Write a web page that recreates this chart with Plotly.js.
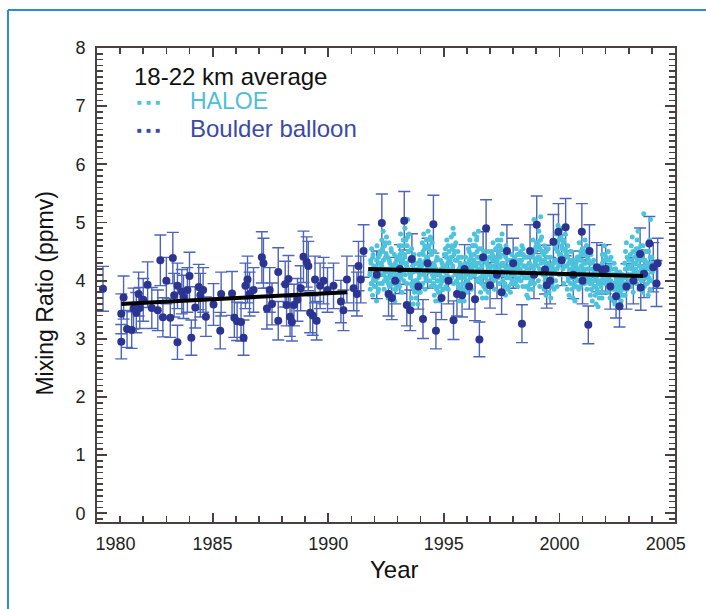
<!DOCTYPE html>
<html>
<head>
<meta charset="utf-8">
<script src="https://cdn.plot.ly/plotly-3.0.1.min.js"></script>
<style>
html,body{margin:0;padding:0;background:#fff;}
#chart{width:706px;height:609px;}
</style>
</head>
<body>
<div id="chart"></div>
<script>
// Boulder balloon soundings (year, ppmv)
const balloonYear = [
 1980.26,1981.05,1981.05,1981.15,1981.30,1981.50,1981.58,1981.70,1981.80,1981.85,
 1982.00,1982.19,1982.37,1982.63,1982.74,1982.85,1983.00,1983.17,1983.28,1983.34,
 1983.48,1983.48,1983.67,1983.74,1983.91,1984.00,1984.08,1984.25,1984.40,1984.47,
 1984.59,1984.71,1985.04,1985.33,1985.37,1985.84,1985.94,1986.06,1986.23,1986.34,
 1986.42,1986.51,1986.60,1986.77,1987.13,1987.20,1987.35,1987.47,1987.57,1987.84,
 1987.84,1988.14,1988.20,1988.28,1988.35,1988.43,1988.52,1988.67,1988.81,1988.93,
 1989.07,1989.14,1989.22,1989.33,1989.43,1989.50,1989.65,1989.80,1989.97,1990.23,
 1990.55,1990.66,1990.81,1991.10,1991.24,1991.31,1991.41,1991.53,1992.10,1992.32,
 1992.61,1992.75,1992.90,1993.10,1993.29,1993.40,1993.55,1993.62,1993.90,1994.10,
 1994.30,1994.55,1994.66,1994.90,1995.20,1995.42,1995.57,1995.79,1995.90,1996.10,
 1996.35,1996.54,1996.70,1996.83,1997.00,1997.30,1997.50,1997.73,1998.00,1998.38,
 1998.73,1998.90,1999.02,1999.38,1999.45,1999.60,1999.74,1999.96,2000.10,2000.27,
 2000.60,2000.97,2001.00,2001.25,2001.30,2001.62,2001.84,2002.00,2002.20,2002.45,
 2002.60,2002.90,2003.20,2003.49,2003.52,2003.66,2003.89,2004.06,2004.20,2004.25
];
const balloonH2O = [
 3.86,3.43,2.95,3.71,3.17,3.15,3.52,3.45,3.77,3.53,
 3.67,3.93,3.53,3.49,4.35,3.37,4.00,3.36,4.39,3.75,
 2.94,3.91,3.81,3.72,3.84,4.08,3.02,3.54,3.89,3.75,
 3.84,3.38,3.59,3.14,3.77,3.78,3.36,3.30,3.29,3.02,
 3.91,4.02,3.77,3.84,4.40,4.30,3.52,3.84,3.60,4.15,
 3.31,3.94,3.58,4.03,3.38,3.29,3.58,3.67,3.87,4.41,
 4.32,4.25,3.45,3.40,4.02,3.31,3.91,4.00,3.84,3.91,
 3.64,3.49,4.02,3.87,3.77,4.25,4.02,4.51,4.10,4.99,
 3.77,3.70,4.00,4.20,5.03,3.58,3.49,4.37,3.90,3.34,
 4.30,4.97,3.14,3.70,4.00,3.32,3.77,3.75,4.20,3.90,
 3.68,2.99,4.40,4.90,3.92,4.10,3.80,4.51,4.30,3.26,
 4.51,4.10,4.96,4.19,3.92,4.00,4.67,4.84,4.35,4.92,
 4.10,4.84,4.00,3.24,4.51,4.23,4.19,4.20,3.90,3.73,
 3.56,3.90,4.00,4.46,3.88,4.12,4.64,4.23,3.95,4.30
];
// HALOE occultation measurements (year, ppmv), part A
const haloeYearA = [
 1991.80,1991.82,1991.84,1991.86,1991.88,1991.90,1991.92,1991.94,1991.96,1991.98,1992.00,1992.02,
 1992.05,1992.07,1992.09,1992.11,1992.13,1992.15,1992.17,1992.19,1992.21,1992.23,1992.25,1992.27,
 1992.30,1992.32,1992.34,1992.36,1992.38,1992.40,1992.42,1992.44,1992.46,1992.48,1992.50,1992.52,
 1992.55,1992.57,1992.59,1992.61,1992.63,1992.65,1992.67,1992.69,1992.71,1992.73,1992.75,1992.77,
 1992.80,1992.82,1992.84,1992.86,1992.88,1992.90,1992.92,1992.94,1992.96,1992.98,1993.00,1993.02,
 1993.05,1993.07,1993.09,1993.11,1993.13,1993.15,1993.17,1993.19,1993.21,1993.23,1993.25,1993.27,
 1993.30,1993.32,1993.34,1993.36,1993.38,1993.40,1993.42,1993.44,1993.46,1993.48,1993.50,1993.52,
 1993.55,1993.57,1993.59,1993.61,1993.63,1993.65,1993.67,1993.69,1993.71,1993.73,1993.75,1993.77,
 1993.80,1993.82,1993.84,1993.86,1993.88,1993.90,1993.92,1993.94,1993.96,1993.98,1994.00,1994.02,
 1994.05,1994.07,1994.09,1994.11,1994.13,1994.15,1994.17,1994.19,1994.21,1994.23,1994.25,1994.27,
 1994.30,1994.32,1994.34,1994.36,1994.38,1994.40,1994.42,1994.44,1994.46,1994.48,1994.50,1994.52,
 1994.55,1994.57,1994.59,1994.61,1994.63,1994.65,1994.67,1994.69,1994.71,1994.73,1994.75,1994.77,
 1994.80,1994.82,1994.84,1994.86,1994.88,1994.90,1994.92,1994.94,1994.96,1994.98,1995.00,1995.02,
 1995.05,1995.07,1995.09,1995.11,1995.13,1995.15,1995.17,1995.19,1995.21,1995.23,1995.25,1995.27,
 1995.30,1995.32,1995.34,1995.36,1995.38,1995.40,1995.42,1995.44,1995.46,1995.48,1995.50,1995.52,
 1995.55,1995.57,1995.59,1995.61,1995.63,1995.65,1995.67,1995.69,1995.71,1995.73,1995.75,1995.77,
 1995.80,1995.82,1995.84,1995.86,1995.88,1995.90,1995.92,1995.94,1995.96,1995.98,1996.00,1996.02,
 1996.05,1996.07,1996.09,1996.11,1996.13,1996.15,1996.17,1996.19,1996.21,1996.23,1996.25,1996.27,
 1996.30,1996.32,1996.34,1996.36,1996.38,1996.40,1996.42,1996.44,1996.46,1996.48,1996.50,1996.52,
 1996.55,1996.57,1996.59,1996.61,1996.63,1996.65,1996.67,1996.69,1996.71,1996.73,1996.75,1996.77,
 1996.80,1996.82,1996.84,1996.86,1996.88,1996.90,1996.92,1996.94,1996.96,1996.98,1997.00,1997.02,
 1997.05,1997.07,1997.09,1997.11,1997.13,1997.15,1997.17,1997.19,1997.21,1997.23,1997.25,1997.27,
 1997.30,1997.32,1997.34,1997.36,1997.38,1997.40,1997.42,1997.44,1997.46,1997.48,1997.50,1997.52,
 1997.55,1997.57,1997.59,1997.61,1997.63,1997.65,1997.67,1997.69,1997.71,1997.73,1997.75,1997.77,
 1997.80,1997.82,1997.84,1997.86,1997.88,1997.90,1997.92,1997.94,1997.96,1997.98,1998.00,1998.02,
 1998.05,1998.07,1998.09,1998.11,1998.13,1998.15,1998.17,1998.19,1998.21,1998.23,1998.25,1998.27,
 1998.30,1998.32,1998.34,1998.36,1998.38,1998.40,1998.42,1998.44,1998.46,1998.48,1998.50,1998.52,
 1998.55,1998.57,1998.59,1998.61,1998.63,1998.65,1998.67,1998.69,1998.71,1998.73,1998.75,1998.77,
 1998.80,1998.82,1998.84,1998.86,1998.88,1998.90,1998.92,1998.94,1998.96,1998.98,1999.00,1999.02,
 1999.05,1999.07,1999.09,1999.11,1999.13,1999.15,1999.17,1999.19,1999.21,1999.23,1999.25,1999.27,
 1999.30,1999.32,1999.34,1999.36,1999.38,1999.40,1999.42,1999.44,1999.46,1999.48,1999.50,1999.52,
 1999.55,1999.57,1999.59,1999.61,1999.63,1999.65,1999.67,1999.69,1999.71,1999.73,1999.75,1999.77,
 1999.80,1999.82,1999.84,1999.86,1999.88,1999.90,1999.92,1999.94,1999.96,1999.98,2000.00,2000.02,
 2000.05,2000.07,2000.09,2000.11,2000.13,2000.15,2000.17,2000.19,2000.21,2000.23,2000.25,2000.27,
 2000.30,2000.32,2000.34,2000.36,2000.38,2000.40,2000.42,2000.44,2000.46,2000.48,2000.50,2000.52,
 2000.55,2000.57,2000.59,2000.61,2000.63,2000.65,2000.67,2000.69,2000.71,2000.73,2000.75,2000.77,
 2000.80,2000.82,2000.84,2000.86,2000.88,2000.90,2000.92,2000.94,2000.96,2000.98,2001.00,2001.02,
 2001.05,2001.07,2001.09,2001.11,2001.13,2001.15,2001.17,2001.19,2001.21,2001.23,2001.25,2001.27,
 2001.30,2001.32,2001.34,2001.36,2001.38,2001.40,2001.42,2001.44,2001.46,2001.48,2001.50,2001.52,
 2001.55,2001.57,2001.59,2001.61,2001.63,2001.65,2001.67,2001.69,2001.71,2001.73,2001.75,2001.77,
 2001.80,2001.82,2001.84,2001.86,2001.88,2001.90,2001.92,2001.94,2001.96,2001.98,2002.00,2002.02,
 2002.05,2002.07,2002.09,2002.11,2002.13,2002.15,2002.17,2002.19,2002.21,2002.23,2002.25,2002.27,
 2002.30,2002.32,2002.34,2002.36,2002.38,2002.40,2002.42,2002.44,2002.46,2002.48,2002.50,2002.52,
 2002.55,2002.57,2002.59,2002.61,2002.63,2002.65,2002.67,2002.69,2002.71,2002.73,2002.75,2002.77,
 2002.80,2002.82,2002.84,2002.86,2002.88,2002.90,2002.92,2002.94,2002.96,2002.98,2003.00,2003.02,
 2003.05,2003.07,2003.09,2003.11,2003.13,2003.15,2003.17,2003.19,2003.21,2003.23,2003.25,2003.27,
 2003.30,2003.32,2003.34,2003.36,2003.38,2003.40,2003.42,2003.44,2003.46,2003.48,2003.50,2003.52,
 2003.55,2003.57,2003.59,2003.61,2003.63,2003.65,2003.67,2003.69,2003.71,2003.73,2003.75,2003.77,
 2003.80,2003.82,2003.84,2003.86,2003.88,2003.90,2003.92,2003.94,2003.96,2003.98,2004.00,2004.02
];
const haloeH2OA = [
 4.10,3.85,4.35,3.95,4.55,4.20,3.75,4.45,4.00,4.25,3.90,4.15,
 3.90,4.25,3.65,4.60,4.05,3.80,4.40,4.15,4.30,3.95,4.50,4.10,
 4.30,4.70,3.95,4.50,4.85,4.10,3.85,4.60,4.20,4.40,4.05,4.75,
 4.00,4.40,3.70,4.20,4.65,3.90,4.30,3.80,4.10,4.50,3.95,4.25,
 3.75,4.15,3.95,4.45,3.65,4.30,4.05,3.85,4.20,3.90,4.10,4.35,
 4.20,4.60,3.90,4.40,4.80,4.05,4.50,3.80,4.30,4.15,4.70,4.00,
 4.45,4.90,4.10,4.70,4.30,3.95,4.60,5.05,4.20,4.50,4.80,4.35,
 4.05,4.35,3.70,4.55,3.90,4.25,3.60,4.15,4.45,3.80,4.00,4.30,
 3.70,4.00,3.85,4.30,3.60,4.15,3.95,4.45,4.10,3.80,4.25,3.90,
 4.25,4.65,3.95,4.45,4.80,4.10,4.55,3.85,4.35,4.00,4.70,4.20,
 4.40,4.85,4.15,4.60,4.30,4.00,4.75,3.90,4.50,4.20,4.65,4.10,
 3.95,4.30,3.75,4.50,4.10,3.65,4.20,3.85,4.40,4.00,4.15,3.80,
 3.80,4.10,3.65,4.35,3.95,4.20,3.70,4.00,4.25,3.85,4.05,4.45,
 4.15,4.55,3.90,4.40,4.70,4.00,4.30,3.85,4.20,4.50,4.05,4.35,
 4.30,4.75,4.05,4.55,4.20,4.90,3.95,4.45,4.60,4.10,4.35,4.65,
 4.00,4.35,3.75,4.50,3.90,4.20,3.65,4.10,4.30,3.85,4.05,4.40,
 3.75,4.05,3.85,4.25,3.65,4.15,3.95,4.40,4.10,3.80,4.20,4.00,
 4.20,4.55,3.95,4.35,4.70,4.05,4.45,3.85,4.25,4.60,4.10,4.30,
 4.35,4.80,4.10,4.60,4.25,4.00,4.70,4.50,4.40,4.15,4.85,4.30,
 4.05,4.40,3.80,4.55,3.95,4.25,3.70,4.15,4.35,3.90,4.10,4.45,
 3.85,4.15,3.70,4.35,4.00,4.25,3.80,4.50,4.10,3.95,4.20,4.40,
 4.10,4.50,3.90,4.35,4.65,4.00,4.25,3.85,4.40,4.15,4.55,4.05,
 4.30,4.70,4.05,4.50,4.20,3.95,4.60,4.40,4.25,4.55,4.10,4.80,
 4.00,4.30,3.80,4.45,3.90,4.15,3.75,4.60,4.20,4.05,4.35,3.85,
 3.90,4.20,4.05,4.35,3.80,4.25,4.10,4.45,4.00,4.30,3.95,4.15,
 4.10,4.40,3.95,4.30,4.55,4.00,4.20,3.90,4.25,4.45,4.05,4.35,
 4.20,4.50,4.00,4.35,4.60,4.10,3.90,4.45,4.25,4.05,4.40,4.15,
 3.90,4.25,3.75,4.40,4.05,3.70,4.15,3.85,4.30,3.95,4.10,4.00,
 4.05,4.45,3.85,4.70,4.20,5.05,3.95,4.55,4.30,4.10,4.60,4.35,
 4.25,4.65,4.00,4.85,4.40,3.90,4.55,5.10,4.30,4.75,4.15,4.50,
 4.10,4.45,3.85,4.60,4.00,4.30,3.75,4.20,4.40,3.95,4.25,4.55,
 3.80,4.15,3.95,4.40,3.70,4.25,4.05,3.90,4.20,4.00,4.30,3.85,
 4.20,4.60,4.00,4.80,4.35,3.90,4.50,4.95,4.25,4.70,4.10,4.45,
 4.35,4.75,4.10,4.55,4.90,4.20,4.65,3.95,4.40,4.25,4.80,4.50,
 4.10,4.45,3.85,4.60,4.00,4.30,3.75,4.20,4.35,3.95,4.50,4.15,
 3.85,4.15,3.70,4.35,3.95,4.20,3.65,4.05,4.25,3.90,4.10,4.40,
 4.00,4.40,3.85,4.65,4.15,3.90,4.50,4.25,4.35,4.05,4.55,4.20,
 4.15,4.50,3.95,4.70,4.30,4.05,4.60,3.85,4.40,4.20,4.55,4.00,
 3.95,4.30,3.75,4.45,3.85,4.10,3.65,4.20,4.00,4.35,3.90,4.15,
 3.75,4.05,3.60,4.25,3.85,4.10,3.55,3.95,4.15,3.70,4.00,3.80,
 3.90,4.25,3.70,4.45,4.05,3.80,4.35,4.60,4.15,3.95,4.20,4.40,
 4.00,4.35,3.80,4.50,4.15,3.90,4.25,3.70,4.10,4.40,3.95,4.20,
 3.85,4.10,3.65,4.30,3.95,3.60,4.20,3.75,4.05,3.90,4.15,3.80,
 3.70,3.95,3.55,4.15,3.80,4.05,3.65,3.90,4.00,3.75,4.10,3.85,
 3.90,4.30,3.75,4.50,4.05,4.65,3.85,4.20,4.10,3.95,4.35,4.00,
 4.10,4.45,3.90,4.60,4.20,4.75,4.00,3.80,4.30,4.15,4.50,4.05,
 4.20,4.55,3.95,4.70,4.35,4.85,4.05,3.85,4.25,4.45,4.10,4.60,
 4.00,4.40,3.80,4.60,4.15,5.15,3.90,4.25,4.35,4.05,4.50,4.20,
 3.95,4.30,3.75,4.50,4.05,4.70,3.85,5.05,4.20,4.00,4.40,4.15
];
// HALOE occultation measurements (year, ppmv), part B
const haloeYearB = [
 1991.81,1991.85,1991.89,1991.93,1991.97,1992.01,
 1992.06,1992.10,1992.14,1992.18,1992.22,1992.26, 1992.31,1992.35,1992.39,1992.43,1992.47,1992.51,
 1992.56,1992.60,1992.64,1992.68,1992.72,1992.76, 1992.81,1992.85,1992.89,1992.93,1992.97,1993.01,
 1993.06,1993.10,1993.14,1993.18,1993.22,1993.26, 1993.31,1993.35,1993.39,1993.43,1993.47,1993.51,
 1993.56,1993.60,1993.64,1993.68,1993.72,1993.76, 1993.81,1993.85,1993.89,1993.93,1993.97,1994.01,
 1994.06,1994.10,1994.14,1994.18,1994.22,1994.26, 1994.31,1994.35,1994.39,1994.43,1994.47,1994.51,
 1994.56,1994.60,1994.64,1994.68,1994.72,1994.76, 1994.81,1994.85,1994.89,1994.93,1994.97,1995.01,
 1995.06,1995.10,1995.14,1995.18,1995.22,1995.26, 1995.31,1995.35,1995.39,1995.43,1995.47,1995.51,
 1995.56,1995.60,1995.64,1995.68,1995.72,1995.76, 1995.81,1995.85,1995.89,1995.93,1995.97,1996.01,
 1996.06,1996.10,1996.14,1996.18,1996.22,1996.26, 1996.31,1996.35,1996.39,1996.43,1996.47,1996.51,
 1996.56,1996.60,1996.64,1996.68,1996.72,1996.76, 1996.81,1996.85,1996.89,1996.93,1996.97,1997.01,
 1997.06,1997.10,1997.14,1997.18,1997.22,1997.26, 1997.31,1997.35,1997.39,1997.43,1997.47,1997.51,
 1997.56,1997.60,1997.64,1997.68,1997.72,1997.76, 1997.81,1997.85,1997.89,1997.93,1997.97,1998.01,
 1998.06,1998.10,1998.14,1998.18,1998.22,1998.26, 1998.31,1998.35,1998.39,1998.43,1998.47,1998.51,
 1998.56,1998.60,1998.64,1998.68,1998.72,1998.76, 1998.81,1998.85,1998.89,1998.93,1998.97,1999.01,
 1999.06,1999.10,1999.14,1999.18,1999.22,1999.26, 1999.31,1999.35,1999.39,1999.43,1999.47,1999.51,
 1999.56,1999.60,1999.64,1999.68,1999.72,1999.76, 1999.81,1999.85,1999.89,1999.93,1999.97,2000.01,
 2000.06,2000.10,2000.14,2000.18,2000.22,2000.26, 2000.31,2000.35,2000.39,2000.43,2000.47,2000.51,
 2000.56,2000.60,2000.64,2000.68,2000.72,2000.76, 2000.81,2000.85,2000.89,2000.93,2000.97,2001.01,
 2001.06,2001.10,2001.14,2001.18,2001.22,2001.26, 2001.31,2001.35,2001.39,2001.43,2001.47,2001.51,
 2001.56,2001.60,2001.64,2001.68,2001.72,2001.76, 2001.81,2001.85,2001.89,2001.93,2001.97,2002.01,
 2002.06,2002.10,2002.14,2002.18,2002.22,2002.26, 2002.31,2002.35,2002.39,2002.43,2002.47,2002.51,
 2002.56,2002.60,2002.64,2002.68,2002.72,2002.76, 2002.81,2002.85,2002.89,2002.93,2002.97,2003.01,
 2003.06,2003.10,2003.14,2003.18,2003.22,2003.26, 2003.31,2003.35,2003.39,2003.43,2003.47,2003.51,
 2003.56,2003.60,2003.64,2003.68,2003.72,2003.76, 2003.81,2003.85,2003.89,2003.93,2003.97,2004.01
];
const haloeH2OB = [
 4.15,4.30,3.95,4.40,4.05,4.20,
 4.00,4.35,4.20,3.85,4.45,4.10, 4.25,4.55,4.35,4.00,4.65,4.45,
 4.15,3.95,4.35,4.05,4.55,4.25, 4.00,4.25,3.85,4.10,4.40,3.95,
 4.25,4.45,4.10,4.60,4.35,4.15, 4.40,4.60,4.25,4.75,4.50,4.15,
 4.10,3.95,4.40,4.20,3.85,4.30, 3.95,4.20,3.80,4.05,4.35,3.90,
 4.30,4.50,4.15,4.60,4.05,4.40, 4.35,4.55,4.25,4.70,4.45,4.10,
 4.05,4.25,3.90,4.35,4.00,4.15, 3.90,4.15,4.05,4.30,3.85,4.20,
 4.25,4.45,4.10,4.60,4.35,4.00, 4.40,4.60,4.25,4.80,4.50,4.15,
 4.15,3.95,4.40,4.05,4.25,3.85, 3.95,4.20,4.05,4.30,3.90,4.10,
 4.30,4.50,4.15,4.40,4.20,4.60, 4.45,4.60,4.30,4.75,4.20,4.55,
 4.20,4.00,4.35,4.10,4.50,3.90, 4.05,4.30,3.90,4.20,4.40,4.10,
 4.25,4.45,4.05,4.35,4.20,4.55, 4.35,4.60,4.20,4.45,4.70,4.30,
 4.10,4.25,3.95,4.40,4.05,4.20, 4.05,4.25,4.15,3.95,4.35,4.20,
 4.20,4.35,4.05,4.45,4.15,4.30, 4.30,4.45,4.15,4.55,4.25,4.05,
 4.05,4.20,3.90,4.30,4.10,3.95, 4.25,4.40,4.10,4.50,4.35,4.65,
 4.40,4.60,4.20,4.70,4.35,4.50, 4.20,4.35,4.05,4.50,4.15,4.30,
 4.00,4.20,4.10,3.95,4.30,4.15, 4.35,4.55,4.20,4.65,4.30,4.45,
 4.45,4.60,4.30,4.70,4.40,4.55, 4.25,4.40,4.05,4.15,4.30,4.50,
 4.05,4.25,3.90,4.15,4.30,4.00, 4.20,4.35,4.10,4.45,4.25,4.55,
 4.30,4.45,4.20,4.60,4.10,4.35, 4.05,4.20,3.95,4.30,4.10,4.00,
 3.90,4.05,3.80,4.15,3.95,4.10, 4.10,4.30,4.00,4.20,4.45,4.05,
 4.15,4.25,4.05,4.35,4.00,4.20, 3.95,4.10,3.85,4.20,4.00,4.05,
 3.85,4.00,3.75,4.10,3.90,3.95, 4.05,4.20,3.95,4.40,4.10,4.25,
 4.25,4.35,4.10,4.50,4.20,4.40, 4.30,4.45,4.15,4.55,4.25,4.40,
 4.20,4.35,4.05,4.50,4.25,4.10, 4.10,4.25,4.00,4.40,4.15,4.30
];
const haloeYear = haloeYearA.concat(haloeYearB);
const haloeH2O  = haloeH2OA.concat(haloeH2OB);
// Linear trend fits
const trend1Year = [1981.05, 1990.82];
const trend1H2O  = [3.60, 3.80];
const trend2Year = [1991.73, 2003.62];
const trend2H2O  = [4.20, 4.08];
// Axis labels (end labels sit inside the frame in the original)
const xLabelYears = [1980.8, 1985, 1990, 1995, 2000, 2004.6];
const xLabelText  = ['1980','1985','1990','1995','2000','2005'];

const FONT = 'Arial, "Liberation Sans", sans-serif';
const axisColor = '#4a4040';
const X_RANGE = [1980, 2005];
const Y_RANGE = [-0.15, 8];

const traces = [
  {
    x: balloonYear, y: balloonH2O, type: 'scatter', mode: 'markers',
    marker: {color: 'rgba(0,0,0,0)', size: 8},
    error_y: {type: 'percent', value: 10, color: '#4d65b8', thickness: 1.4, width: 6},
    hoverinfo: 'skip', showlegend: false
  },
  {
    x: haloeYear, y: haloeH2O, type: 'scatter', mode: 'markers',
    marker: {color: '#4cc3dc', size: 5},
    showlegend: false
  },
  {
    x: balloonYear, y: balloonH2O, type: 'scatter', mode: 'markers',
    marker: {color: '#2c3491', size: 8},
    showlegend: false
  },
  {
    x: trend1Year, y: trend1H2O, type: 'scatter', mode: 'lines',
    line: {color: '#000', width: 4}, showlegend: false
  },
  {
    x: trend2Year, y: trend2H2O, type: 'scatter', mode: 'lines',
    line: {color: '#000', width: 4}, showlegend: false
  },
  // empty traces so the helper axes (labels, mirrored minor ticks) are drawn
  { x: [], y: [], xaxis: 'x2', type: 'scatter', showlegend: false },
  { x: [], y: [], xaxis: 'x3', type: 'scatter', showlegend: false },
  { x: [], y: [], yaxis: 'y2', type: 'scatter', showlegend: false }
];

const layout = {
  width: 706, height: 609,
  margin: {l: 97, r: 31, t: 48, b: 87},
  paper_bgcolor: '#ffffff',
  plot_bgcolor: '#ffffff',
  showlegend: false,
  font: {family: FONT, color: '#222'},
  xaxis: {
    range: X_RANGE,
    tickmode: 'linear', tick0: 1980, dtick: 5,
    showticklabels: false,
    ticks: 'inside', ticklen: 9, tickwidth: 1.8, tickcolor: axisColor,
    minor: {dtick: 1, ticks: 'inside', ticklen: 6, tickwidth: 1.6, tickcolor: axisColor},
    showline: true, linecolor: axisColor, linewidth: 2, mirror: 'ticks',
    showgrid: false, zeroline: false
  },
  xaxis2: {
    overlaying: 'x', anchor: 'y', side: 'bottom',
    range: X_RANGE,
    tickmode: 'array', tickvals: xLabelYears, ticktext: xLabelText,
    ticks: '', showline: false, showgrid: false, zeroline: false,
    tickfont: {size: 18, color: '#222'},
    ticklabelstandoff: 9
  },
  xaxis3: {
    overlaying: 'x', anchor: 'y', side: 'top', range: X_RANGE,
    tickmode: 'linear', tick0: 1980, dtick: 1,
    ticks: 'inside', ticklen: 6, tickwidth: 1.6, tickcolor: axisColor,
    showticklabels: false, showline: false, showgrid: false, zeroline: false
  },
  yaxis: {
    range: Y_RANGE,
    tickmode: 'linear', tick0: 0, dtick: 1,
    ticks: 'inside', ticklen: 10, tickwidth: 1.8, tickcolor: axisColor,
    minor: {dtick: 0.1, ticks: 'inside', ticklen: 6, tickwidth: 1.6, tickcolor: axisColor},
    showline: true, linecolor: axisColor, linewidth: 2, mirror: 'ticks',
    showgrid: false, zeroline: false,
    tickfont: {size: 18, color: '#222'},
    ticklabelstandoff: 6
  },
  yaxis2: {
    overlaying: 'y', anchor: 'x', side: 'right', range: Y_RANGE,
    tickmode: 'linear', tick0: 0, dtick: 0.1,
    ticks: 'inside', ticklen: 6, tickwidth: 1.6, tickcolor: axisColor,
    showticklabels: false, showline: false, showgrid: false, zeroline: false
  },
  shapes: [
    {type: 'line', xref: 'paper', yref: 'paper', x0: -0.154, x1: 1.06, y0: 1.080, y1: 1.080,
     line: {color: '#2a8fcf', width: 2}},
    {type: 'line', xref: 'paper', yref: 'paper', x0: -0.154, x1: -0.154, y0: 1.080, y1: -0.19,
     line: {color: '#2a8fcf', width: 2}}
  ],
  annotations: [
    {text: 'Year', xref: 'paper', yref: 'paper', x: 0.514, y: -0.101,
     xanchor: 'center', yanchor: 'middle', showarrow: false, font: {size: 24, color: '#111'}},
    {text: 'Mixing Ratio (ppmv)', xref: 'paper', yref: 'paper', x: -0.09, y: 0.484, textangle: -90,
     xanchor: 'center', yanchor: 'middle', showarrow: false, font: {size: 23, color: '#111'}},
    {text: '18-22 km average', xref: 'paper', yref: 'paper', x: 0.060, y: 0.940,
     xanchor: 'left', yanchor: 'middle', showarrow: false, font: {size: 24, color: '#111'}},
    {text: '■  ■  ■', xref: 'paper', yref: 'paper', x: 0.066, y: 0.884,
     xanchor: 'left', yanchor: 'middle', showarrow: false, font: {size: 8, color: '#4cc3dc'}},
    {text: 'HALOE', xref: 'paper', yref: 'paper', x: 0.158, y: 0.889,
     xanchor: 'left', yanchor: 'middle', showarrow: false, font: {size: 23, color: '#4cbfd8'}},
    {text: '■  ■  ■', xref: 'paper', yref: 'paper', x: 0.066, y: 0.827,
     xanchor: 'left', yanchor: 'middle', showarrow: false, font: {size: 8, color: '#3b4aa6'}},
    {text: 'Boulder balloon', xref: 'paper', yref: 'paper', x: 0.158, y: 0.831,
     xanchor: 'left', yanchor: 'middle', showarrow: false, font: {size: 24, color: '#3b4aa6'}}
  ]
};

Plotly.newPlot('chart', traces, layout, {displayModeBar: false, staticPlot: true});
</script>
</body>
</html>
